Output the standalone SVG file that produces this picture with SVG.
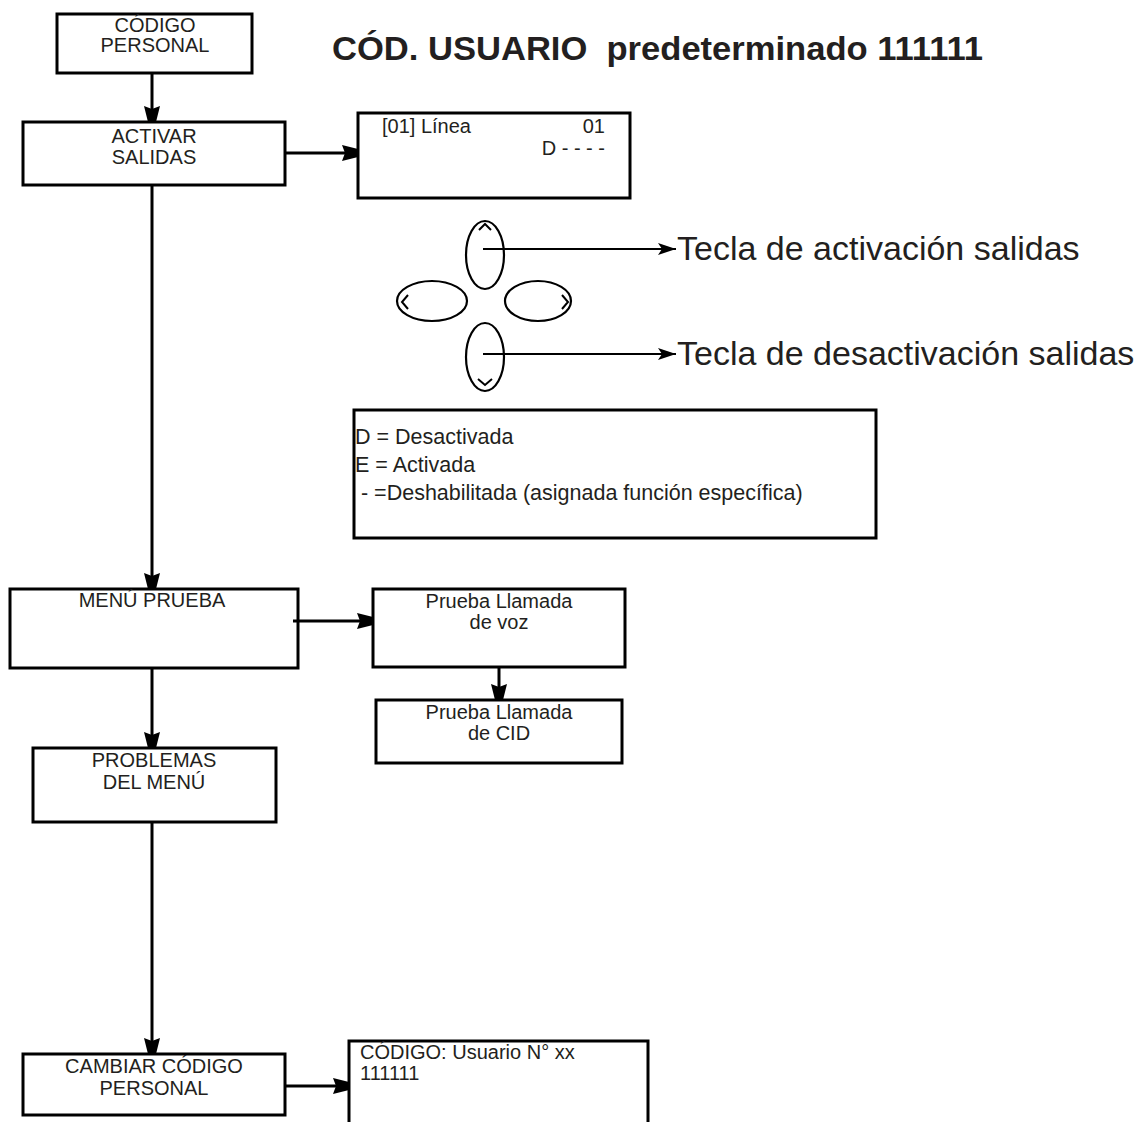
<svg xmlns="http://www.w3.org/2000/svg" width="1148" height="1122" viewBox="0 0 1148 1122">
<style>
.box{fill:#fff;stroke:#000;stroke-width:3}
.t{font-family:"Liberation Sans",Arial,sans-serif;font-size:20px;fill:#231f20}
.lg{font-family:"Liberation Sans",Arial,sans-serif;font-size:21.5px;fill:#231f20}
.c{text-anchor:middle}
.e{text-anchor:end}
.conn{stroke:#000;stroke-width:3;fill:none}
.thin{stroke:#000;stroke-width:2;fill:none}
.key{fill:#fff;stroke:#000;stroke-width:2.2}
.big{font-family:"Liberation Sans",Arial,sans-serif;font-size:34px;fill:#231f20}
.title{font-family:"Liberation Sans",Arial,sans-serif;font-size:34px;font-weight:bold;fill:#231f20}
</style>
<defs>
<marker id="ah" markerUnits="userSpaceOnUse" markerWidth="18" markerHeight="20" viewBox="0 -10 18 20" refX="16" refY="0" orient="auto">
<path d="M0,-8 L16,-4 L16,4 L0,8 L3,0 Z" fill="#000"/>
</marker>
<marker id="ah2" markerUnits="userSpaceOnUse" markerWidth="20" markerHeight="14" viewBox="0 -7 20 14" refX="18" refY="0" orient="auto">
<path d="M0,-6 L18,0 L0,6 L4,0 Z" fill="#000"/>
</marker>
</defs>
<rect width="1148" height="1122" fill="#fff"/>

<text class="title" x="332" y="60" xml:space="preserve" textLength="651" lengthAdjust="spacingAndGlyphs">CÓD. USUARIO  predeterminado 111111</text>

<g id="codigo-personal">
<rect class="box" x="57" y="14" width="195" height="59"/>
<text class="t c" x="155" y="32">CÓDIGO</text>
<text class="t c" x="155" y="52">PERSONAL</text>
</g>

<g id="activar-salidas">
<rect class="box" x="23" y="122" width="262" height="63"/>
<text class="t c" x="154" y="143">ACTIVAR</text>
<text class="t c" x="154" y="164">SALIDAS</text>
</g>

<g id="display-linea">
<rect class="box" x="358" y="113" width="272" height="85"/>
<text class="t" x="382" y="133">[01] Línea</text>
<text class="t e" x="605" y="133">01</text>
<text class="t e" x="605" y="155" xml:space="preserve">D - - - -</text>
</g>

<g id="keypad">
<ellipse class="key" cx="485" cy="255" rx="19" ry="34"/>
<ellipse class="key" cx="432" cy="301" rx="35" ry="20"/>
<ellipse class="key" cx="538" cy="301" rx="33" ry="20"/>
<ellipse class="key" cx="485" cy="357" rx="19" ry="34"/>
<path class="thin" d="M479,230 L485,224 L491,230"/>
<path class="thin" d="M478,379 L485,385 L492,379"/>
<path class="thin" d="M408,295 L402,302 L408,309"/>
<path class="thin" d="M562,295 L568,302 L562,309"/>
</g>

<g id="tecla-activacion">
<text class="big" x="677" y="260">Tecla de activación salidas</text>
</g>
<g id="tecla-desactivacion">
<text class="big" x="677" y="365">Tecla de desactivación salidas</text>
</g>

<g id="leyenda">
<rect class="box" x="354" y="410" width="522" height="128"/>
<text class="lg" x="355" y="444">D = Desactivada</text>
<text class="lg" x="355" y="472">E = Activada</text>
<text class="lg" x="355" y="500" xml:space="preserve"> - =Deshabilitada (asignada función específica)</text>
</g>

<g id="menu-prueba">
<rect class="box" x="10" y="589" width="288" height="79"/>
<text class="t c" x="152" y="607">MENÚ PRUEBA</text>
</g>

<g id="prueba-voz">
<rect class="box" x="373" y="589" width="252" height="78"/>
<text class="t c" x="499" y="608">Prueba Llamada</text>
<text class="t c" x="499" y="629">de voz</text>
</g>

<g id="prueba-cid">
<rect class="box" x="376" y="700" width="246" height="63"/>
<text class="t c" x="499" y="719">Prueba Llamada</text>
<text class="t c" x="499" y="740">de CID</text>
</g>

<g id="problemas-menu">
<rect class="box" x="33" y="748" width="243" height="74"/>
<text class="t c" x="154" y="767">PROBLEMAS</text>
<text class="t c" x="154" y="789">DEL MENÚ</text>
</g>

<g id="cambiar-codigo">
<rect class="box" x="23" y="1054" width="262" height="61"/>
<text class="t c" x="154" y="1073">CAMBIAR CÓDIGO</text>
<text class="t c" x="154" y="1095">PERSONAL</text>
</g>

<g id="codigo-usuario">
<path class="box" d="M349,1124 V1041 H648 V1124"/>
<text class="t" x="360" y="1059">CÓDIGO: Usuario N° xx</text>
<text class="t" x="360" y="1080">111111</text>
</g>

<g id="connectors">
<line class="conn" x1="152" y1="73" x2="152" y2="122" marker-end="url(#ah)"/>
<line class="conn" x1="285" y1="153" x2="358" y2="153" marker-end="url(#ah)"/>
<line class="conn" x1="152" y1="185" x2="152" y2="589" marker-end="url(#ah)"/>
<line class="conn" x1="293" y1="621" x2="373" y2="621" marker-end="url(#ah)"/>
<line class="conn" x1="499" y1="667" x2="499" y2="700" marker-end="url(#ah)"/>
<line class="conn" x1="152" y1="668" x2="152" y2="748" marker-end="url(#ah)"/>
<line class="conn" x1="152" y1="822" x2="152" y2="1054" marker-end="url(#ah)"/>
<line class="conn" x1="285" y1="1086" x2="349" y2="1086" marker-end="url(#ah)"/>
<line class="thin" x1="483" y1="249" x2="676" y2="249" marker-end="url(#ah2)"/>
<line class="thin" x1="483" y1="354" x2="676" y2="354" marker-end="url(#ah2)"/>
</g>
</svg>
